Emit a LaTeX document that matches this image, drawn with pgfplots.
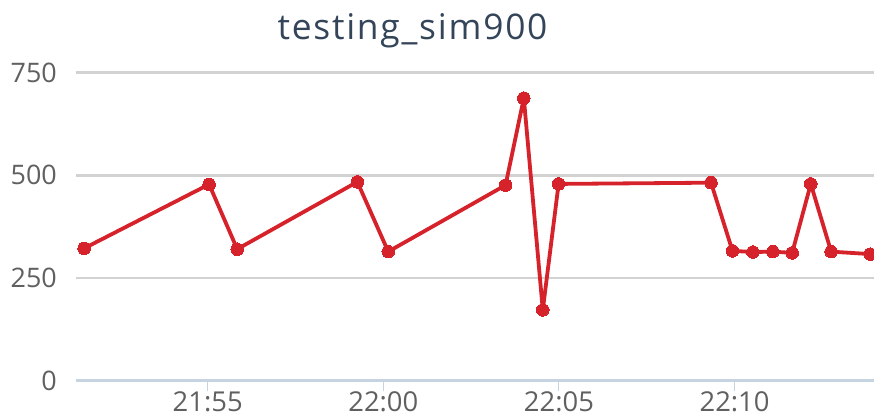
\documentclass[border=0pt]{standalone}
\usepackage{pgfplots}
\pgfplotsset{compat=1.18}
\usepackage{fontspec}
\setmainfont{Open Sans}
\definecolor{lineRed}{HTML}{D6222A}
\definecolor{gridGrey}{HTML}{D2D2D2}
\definecolor{axisBlue}{HTML}{C6D4E2}
\definecolor{labelGrey}{HTML}{606060}
\definecolor{titleCol}{HTML}{34455A}
\begin{document}
\begin{tikzpicture}
\path[use as bounding box] (-76bp,-35.5bp) rectangle (798bp,380.5bp);
\begin{axis}[
  at={(0,0)}, anchor=south west,
  scale only axis,
  width=798bp, height=307.8bp,
  xmin=1.25, xmax=23.97,
  ymin=0, ymax=750,
  ytick={0,250,500,750},
  xtick={5,10,15,20},
  xticklabels={21:55,22:00,22:05,22:10},
  yticklabels={0,250,500,750},
  axis x line*=bottom,
  axis y line*=left,
  x axis line style={draw=axisBlue, line width=2.5bp, -},
  y axis line style={draw=none},
  ymajorgrids,
  grid style={gridGrey, line width=2.5bp},
  ytick style={draw=none},
  xtick style={draw=axisBlue, line width=1bp},
  major tick length=10bp,
  tick align=outside,
  yticklabel style={font=\fontsize{27}{27}\selectfont, text=labelGrey, anchor=east, inner sep=0pt, xshift=-9bp},
  xticklabel style={font=\fontsize{27.5}{27.5}\selectfont, text=labelGrey, anchor=north, inner sep=0pt, yshift=-1bp},
  clip=false,
]
\addplot[lineRed, line width=3.8bp, line join=round, mark=*, mark size=6.3bp, mark options={solid, fill=lineRed, draw=lineRed, line width=0bp}] coordinates {
(1.48,322) (5.04,478) (5.84,320) (9.26,484) (10.14,314) (13.48,476)
(14.00,688) (14.54,172) (14.99,479) (19.33,482) (19.94,316) (20.52,313)
(21.09,314) (21.64,311) (22.17,479) (22.75,314) (23.86,308)
};
\node[anchor=base, text=titleCol, font=\fontsize{35.5}{35.5}\selectfont\addfontfeature{LetterSpace=5}] at (rel axis cs:0.4217,1) [yshift=33.7bp] {testing\_sim900};
\end{axis}
\end{tikzpicture}
\end{document}
